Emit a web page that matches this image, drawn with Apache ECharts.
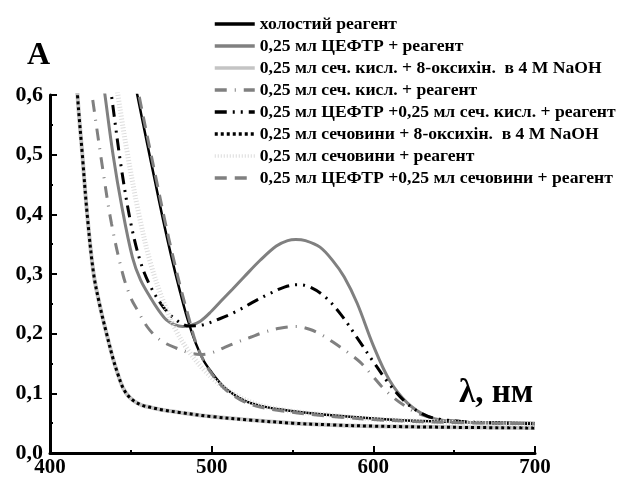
<!DOCTYPE html>
<html><head><meta charset="utf-8">
<script src="https://cdn.jsdelivr.net/npm/echarts@6/dist/echarts.min.js"></script>
<style>html,body{margin:0;padding:0;background:#fff}#c{width:617px;height:480px}</style>
</head><body><div id="c"></div>
<script>
const seriesNames = [
  'холостий реагент',
  '0,25 мл ЦЕФТР + реагент',
  '0,25 мл сеч. кисл. + 8-оксихін.  в 4 M NaOH',
  '0,25 мл сеч. кисл. + реагент',
  '0,25 мл ЦЕФТР +0,25 мл сеч. кисл. + реагент',
  '0,25 мл сечовини + 8-оксихін.  в 4 M NaOH',
  '0,25 мл сечовини + реагент',
  '0,25 мл ЦЕФТР +0,25 мл сечовини + реагент'
];
const xTicks = [400, 500, 600, 700];
const yTicks = [0.0, 0.1, 0.2, 0.3, 0.4, 0.5, 0.6];

// холостий реагент
const blankX = [452, 454, 460, 465, 470, 475, 480, 485, 490, 495, 500, 505, 510, 520, 530, 545, 560, 580, 600, 625, 650, 675, 700];
const blankY = [0.63, 0.60, 0.52, 0.455, 0.39, 0.33, 0.275, 0.225, 0.185, 0.155, 0.135, 0.118, 0.105, 0.088, 0.079, 0.072, 0.067, 0.062, 0.058, 0.054, 0.052, 0.051, 0.050];
// 0,25 мл ЦЕФТР + реагент
const cefX = [432, 434, 439, 444.5, 451, 456, 462, 467, 472, 477, 482, 487, 493, 500, 507, 513, 520, 530, 540, 547, 552, 558, 567, 575, 582, 590, 600, 610, 621, 633, 645, 660, 680, 700];
const cefY = [0.64, 0.60, 0.50, 0.412, 0.328, 0.29, 0.261, 0.24, 0.223, 0.215, 0.212, 0.214, 0.221, 0.238, 0.258, 0.275, 0.295, 0.323, 0.347, 0.356, 0.358, 0.356, 0.345, 0.322, 0.295, 0.251, 0.180, 0.122, 0.084, 0.062, 0.054, 0.051, 0.050, 0.050];
// сеч. кисл. + 8-оксихін. / сечовини + 8-оксихін. (NaOH)
const naohX = [415, 417, 420, 423, 427, 431, 435, 439, 442, 445, 448, 452, 457, 463, 470, 480, 500, 525, 550, 575, 600, 650, 700];
const uricNaohY = [0.70, 0.60, 0.50, 0.40, 0.30, 0.245, 0.20, 0.158, 0.132, 0.110, 0.097, 0.087, 0.080, 0.076, 0.072, 0.068, 0.061, 0.055, 0.050, 0.047, 0.045, 0.043, 0.042];
const ureaNaohY = [0.70, 0.60, 0.50, 0.40, 0.30, 0.245, 0.20, 0.158, 0.132, 0.110, 0.097, 0.087, 0.080, 0.076, 0.072, 0.068, 0.061, 0.055, 0.050, 0.047, 0.045, 0.043, 0.042];
// сеч. кисл. + реагент
const uricX = [424, 426, 433, 438, 445, 450, 454, 460, 466, 472, 478, 486, 493, 500, 508, 516, 524, 532, 542, 552, 561, 568, 575, 585, 592, 598, 605, 612, 620, 628, 640, 660, 680, 700];
const uricY = [0.64, 0.60, 0.469, 0.385, 0.30, 0.26, 0.24, 0.212, 0.194, 0.183, 0.176, 0.168, 0.165, 0.168, 0.177, 0.186, 0.194, 0.202, 0.209, 0.212, 0.207, 0.198, 0.186, 0.167, 0.152, 0.134, 0.112, 0.094, 0.078, 0.066, 0.057, 0.052, 0.050, 0.049];
// ЦЕФТР + сеч. кисл. + реагент
const cefUricX = [436, 438, 444, 450, 456, 462, 470, 478, 486, 495, 505, 515, 525, 535, 545, 553, 560, 570, 580, 590, 600, 610, 620, 630, 640, 660, 680, 700];
const cefUricY = [0.64, 0.60, 0.48, 0.385, 0.32, 0.28, 0.245, 0.223, 0.213, 0.215, 0.225, 0.237, 0.252, 0.266, 0.278, 0.282, 0.279, 0.262, 0.232, 0.193, 0.153, 0.115, 0.085, 0.066, 0.057, 0.052, 0.050, 0.049];
// сечовини + реагент
const ureaX = [440, 442, 448, 455, 462, 470, 478, 486, 495, 505, 515, 530, 550, 575, 600, 650, 700];
const ureaY = [0.64, 0.60, 0.50, 0.40, 0.32, 0.255, 0.205, 0.17, 0.14, 0.115, 0.097, 0.080, 0.070, 0.063, 0.057, 0.051, 0.048];
// ЦЕФТР + сечовини + реагент
const cefUreaX = [453, 455, 461, 466, 471, 476, 481, 486, 490, 495, 500, 505, 510, 520, 530, 545, 560, 580, 600, 625, 650, 675, 700];
const cefUreaY = [0.63, 0.60, 0.52, 0.455, 0.39, 0.33, 0.275, 0.225, 0.187, 0.155, 0.133, 0.116, 0.103, 0.086, 0.077, 0.070, 0.065, 0.060, 0.056, 0.053, 0.051, 0.050, 0.049];

const pairs = (xs, ys) => xs.map((x, i) => [x, ys[i]]);
const FONT = '"Liberation Serif", "Times New Roman", serif';

const styles = [
  {color: '#000000', width: 2.5, type: 'solid'},
  {color: '#808080', width: 3, type: 'solid'},
  {color: '#c4c4c4', width: 4, type: 'solid'},
  {color: '#808080', width: 3, type: [12, 8, 1, 8]},
  {color: '#000000', width: 3, type: [12, 6, 2, 6, 2, 6]},
  {color: '#000000', width: 3, type: [3, 3]},
  {color: '#dcdcdc', width: 5, type: [1, 2]},
  {color: '#808080', width: 3, type: [12, 8]}
];
const datasets = [
  pairs(blankX, blankY),
  pairs(cefX, cefY),
  pairs(naohX, uricNaohY),
  pairs(uricX, uricY),
  pairs(cefUricX, cefUricY),
  pairs(naohX, ureaNaohY),
  pairs(ureaX, ureaY),
  pairs(cefUreaX, cefUreaY)
];

const chart = echarts.init(document.getElementById('c'), null, {renderer: 'canvas'});
chart.setOption({
  animation: false,
  backgroundColor: '#ffffff',
  grid: {left: 50, right: 82, top: 95, bottom: 27, containLabel: false},
  legend: {
    orient: 'vertical', left: 208, top: 10,
    itemWidth: 40, itemHeight: 12, itemGap: 4,
    itemStyle: {opacity: 0},
    lineStyle: {width: 3.5},
    textStyle: {fontFamily: FONT, fontWeight: 'bold', fontSize: 17.6, color: '#000', lineHeight: 18},
    data: seriesNames
  },
  xAxis: {
    type: 'value', min: 400, max: 700, interval: 100,
    axisLine: {show: true, lineStyle: {color: '#000', width: 3}},
    axisTick: {show: true, inside: true, length: 7, lineStyle: {color: '#000', width: 2}},
    minorTick: {show: true, splitNumber: 2, length: 3, lineStyle: {color: '#000', width: 2}},
    splitLine: {show: false},
    axisLabel: {fontFamily: FONT, fontWeight: 'bold', fontSize: 21, color: '#000', margin: 4,
      formatter: v => xTicks.includes(v) ? String(v) : ''}
  },
  yAxis: {
    type: 'value', min: 0, max: 0.6, interval: 0.1,
    axisLine: {show: true, lineStyle: {color: '#000', width: 3}},
    axisTick: {show: true, inside: true, length: 7, lineStyle: {color: '#000', width: 2}},
    minorTick: {show: true, splitNumber: 2, length: 3, lineStyle: {color: '#000', width: 2}},
    splitLine: {show: false},
    axisLabel: {fontFamily: FONT, fontWeight: 'bold', fontSize: 22, color: '#000', margin: 7,
      formatter: v => yTicks.some(t => Math.abs(t - v) < 1e-9) ? v.toFixed(1).replace('.', ',') : ''}
  },
  graphic: [
    {type: 'text', left: 27, top: 40, style: {text: 'A', font: 'bold 32px ' + FONT, fill: '#000'}},
    {type: 'text', left: 459, top: 377, style: {text: 'λ, нм', font: 'bold 33px ' + FONT, fill: '#000'}}
  ],
  series: seriesNames.map((name, i) => ({
    name, type: 'line', data: datasets[i], showSymbol: false, symbol: 'none',
    smooth: 0.35, clip: true,
    lineStyle: {color: styles[i].color, width: styles[i].width, type: styles[i].type, cap: 'butt'},
    itemStyle: {color: styles[i].color},
    emphasis: {disabled: true}
  }))
});
</script></body></html>
